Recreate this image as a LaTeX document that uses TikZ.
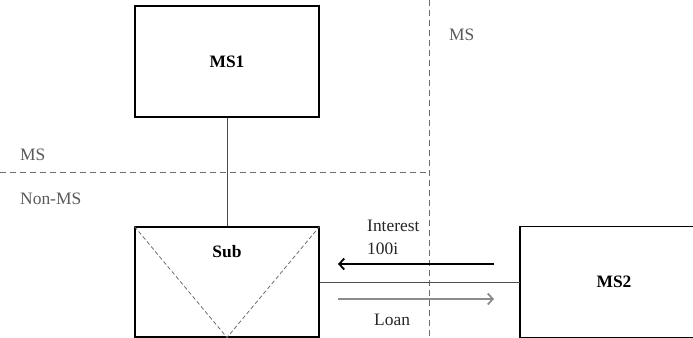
\documentclass[tikz,border=0pt]{standalone}
\usepackage{fontspec}
\setmainfont{Liberation Serif}
\usetikzlibrary{arrows.meta}
\definecolor{zoneline}{RGB}{110,110,110}
\definecolor{zonetext}{RGB}{90,90,90}
\definecolor{loangray}{RGB}{140,140,140}
\tikzset{
  entity/.style={draw=black, line width=1.1bp, fill=white, minimum width=184bp,
    minimum height=110bp, inner sep=0pt, font=\fontsize{17.5}{21}\selectfont\bfseries},
  border/.style={draw=zoneline, line width=0.9bp, dash pattern=on 6bp off 4bp},
  zonelabel/.style={text=zonetext, inner sep=0pt, font=\fontsize{17.5}{21}\selectfont},
  flowlabel/.style={text=black!85, inner sep=0pt, font=\fontsize{17.5}{21}\selectfont},
  link/.style={draw=black!70, line width=0.9bp},
  flow/.style={line width=1.3bp, -{Straight Barb[length=5bp,width=11bp,line width=1.8bp]}}
}
\begin{document}
\begin{tikzpicture}[x=1bp, y=-1bp]
  \useasboundingbox (0,0) rectangle (693,337);
  \clip (0,0) rectangle (693,337);
  \fill[white] (0,0) rectangle (693,337);

  % jurisdiction borders
  \coordinate (hb0) at (0,172);
  \coordinate (hb1) at (429,172);
  \coordinate (vb0) at (429,0);
  \coordinate (vb1) at (429,337);
  \draw[border] (hb0) -- (hb1);
  \draw[border] (vb0) -- (vb1);

  % zone labels
  \node[zonelabel, anchor=base west] (msright) at (449,40) {MS};
  \node[zonelabel, anchor=base west] (msleft) at (20,160) {MS};
  \node[zonelabel, anchor=base west] (nonms) at (20,204) {Non-MS};

  % entities
  \node[entity, minimum height=111bp] (ms1) at (227,61.5) {MS1};
  \node[entity] (sub) at (227,282) {};
  \node[font=\fontsize{17.5}{21}\selectfont\bfseries, inner sep=0pt] (sublabel) at (227,252) {Sub};
  % MS2 runs past the right edge: only its left, top and bottom sides are drawn
  \node[entity, draw=none, fill=none, minimum width=220bp, anchor=west] (ms2) at (520,282) {};
  \draw[black, line width=1.1bp] (ms2.north east) -- (ms2.north west) -- (ms2.south west) -- (ms2.south east);
  \node[font=\fontsize{17.5}{21}\selectfont\bfseries, inner sep=0pt] (ms2label) at (614,282) {MS2};

  % hybrid marker inside Sub
  \draw[border, dash pattern=on 4bp off 2.5bp, line width=0.8bp]
    (sub.north west) -- (sub.south) -- (sub.north east);

  % ownership and loan links
  \draw[link] (ms1.south) -- (sub.north);
  \draw[link] (sub.east) -- (ms2.west);

  % payment flows
  \coordinate (int0) at (494,264);
  \coordinate (int1) at (338,264);
  \coordinate (loan0) at (338,299);
  \coordinate (loan1) at (494,299);
  \draw[flow, draw=black] (int0) -- (int1);
  \draw[flow, draw=loangray] (loan0) -- (loan1);

  \node[flowlabel, anchor=base west] (interest) at (367,231) {Interest};
  \node[flowlabel, anchor=base west] (rate) at (367,254) {100i};
  \node[flowlabel, anchor=base west] (loan) at (374,325) {Loan};
\end{tikzpicture}
\end{document}
